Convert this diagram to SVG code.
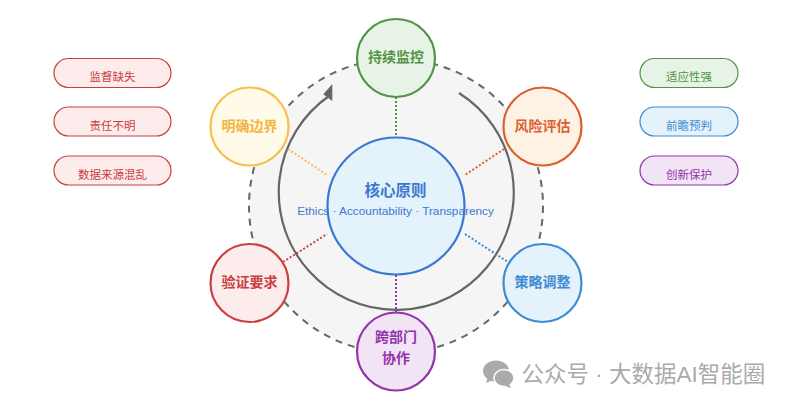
<svg xmlns="http://www.w3.org/2000/svg" width="792" height="406" viewBox="0 0 792 406">
<style>
text{font-family:"Liberation Sans","Noto Sans CJK SC",sans-serif;text-anchor:middle}
.n{stroke-width:2.2}
.nt{font-size:14px;font-weight:700}
.p{stroke-width:1.2}
.pt{font-size:11.500px}
.s{stroke-width:2;stroke-dasharray:2 2;fill:none}
.red{fill:#fdecec;stroke:#c94040}.redt{fill:#c94040}
.grn{fill:#e8f3e8;stroke:#529446}.grnt{fill:#529446}
.blu{fill:#e4f2fc;stroke:#3f8bd2}.blut{fill:#3f8bd2}
.pur{fill:#f1e4f4;stroke:#9434ad}.purt{fill:#9434ad}
.yel{fill:#fffbe8;stroke:#f5c04f}.yelt{fill:#f2b544}
.org{fill:#fdf2e3;stroke:#dc5f2e}.orgt{fill:#dc5f2e}
</style>
<g id="background-rings">
<circle cx="396" cy="206" r="147" fill="#f5f5f5" stroke="#666" stroke-width="2" stroke-dasharray="7 6"/>
</g>
<g id="connectors">
<path d="M459 93A117.500 117.500 0 1 1 329 96" fill="none" stroke="#666" stroke-width="2.200"/>
<path d="M332.300 84V101L323.300 94.300Z" fill="#666"/>
<path class="s" stroke="#529446" d="M396 97V137"/>
<path class="s" stroke="#dc5f2e" d="M504 149L465 175"/>
<path class="s" stroke="#3f8bd2" d="M465 234L508 262"/>
<path class="s" stroke="#9434ad" d="M396 275V313"/>
<path class="s" stroke="#c94040" d="M283 262L327 234"/>
<path class="s" stroke="#f5c04f" d="M288 149L327 175"/>
</g>
<g id="center"><circle cx="396" cy="206" r="68.500" fill="#e4f2fc" stroke="#3c78d0" stroke-width="2.200"/>
<text x="395.500" y="196" font-size="15.500" font-weight="700" fill="#3c78d0">核心原则</text>
<text x="395.500" y="215" font-size="11.800" fill="#3c78d0">Ethics · Accountability · Transparency</text></g>
<g id="node-monitor"><circle class="n grn" cx="396" cy="58" r="39"/><text class="nt grnt" x="396" y="62">持续监控</text></g>
<g id="node-risk"><circle class="n org" cx="542.500" cy="126.500" r="39"/><text class="nt orgt" x="542.500" y="131">风险评估</text></g>
<g id="node-strategy"><circle class="n blu" cx="542.500" cy="283" r="39"/><text class="nt blut" x="542.500" y="287">策略调整</text></g>
<g id="node-collab"><circle class="n pur" cx="396" cy="351.500" r="39"/><text class="nt purt" x="396" y="342">跨部门</text><text class="nt purt" x="396" y="363">协作</text></g>
<g id="node-verify"><circle class="n red" cx="249.500" cy="283" r="39"/><text class="nt redt" x="249.500" y="287">验证要求</text></g>
<g id="node-boundary"><circle class="n yel" cx="249.500" cy="126.500" r="39"/><text class="nt yelt" x="249.500" y="131">明确边界</text></g>
<g id="pill-1"><rect class="p red" x="54" y="58.500" width="117" height="29" rx="14.500"/><text class="pt redt" x="112.500" y="81">监督缺失</text></g>
<g id="pill-2"><rect class="p red" x="54" y="107" width="117" height="29" rx="14.500"/><text class="pt redt" x="112.500" y="130">责任不明</text></g>
<g id="pill-3"><rect class="p red" x="54" y="156" width="117" height="29" rx="14.500"/><text class="pt redt" x="112.500" y="179">数据来源混乱</text></g>
<g id="pill-4"><rect class="p grn" x="640" y="58.500" width="98" height="29" rx="14.500"/><text class="pt grnt" x="689" y="81">适应性强</text></g>
<g id="pill-5"><rect class="p blu" x="640" y="107" width="98" height="29" rx="14.500"/><text class="pt blut" x="689" y="130">前瞻预判</text></g>
<g id="pill-6"><rect class="p pur" x="640" y="156" width="98" height="29" rx="14.500"/><text class="pt purt" x="689" y="179">创新保护</text></g>
<g id="watermark">
<ellipse cx="496" cy="371" rx="13" ry="10.500" fill="#aaa"/><path d="M488 377l-2 6 7-3Z" fill="#aaa"/>
<ellipse cx="504" cy="378" rx="10" ry="8.500" fill="#aaa" stroke="#fff" stroke-width="1.500"/><path d="M509 384l2 4-6-2Z" fill="#aaa"/>
<text x="643.500" y="382" font-size="22.500" fill="#aaa">公众号 · 大数据AI智能圈</text></g>
</svg>
